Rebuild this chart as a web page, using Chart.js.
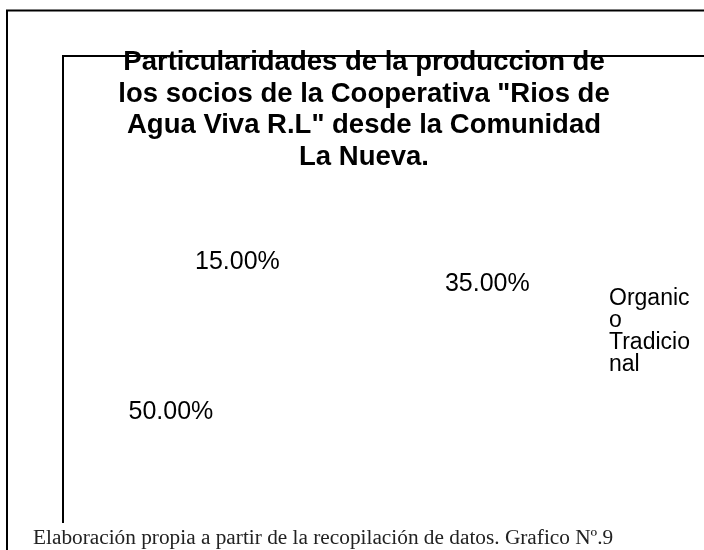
<!DOCTYPE html>
<html>
<head>
<meta charset="utf-8">
<script src="https://cdn.jsdelivr.net/npm/chart.js@4.4.1/dist/chart.umd.min.js"></script>
<style>
  html, body { margin: 0; padding: 0; background: #fff; }
  #wrap { width: 704px; height: 550px; position: relative; }
</style>
</head>
<body>
<div id="wrap"><canvas id="myChart" width="704" height="550"></canvas></div>
<script>
// data
const categories = ['Organico', 'Tradicional', ''];
const shares = [35, 50, 15];

const titleLines = [
    'Particularidades de la produccion de',
    'los socios de la Cooperativa "Rios de',
    'Agua Viva R.L" desde la Comunidad',
    'La Nueva.'
];
const footerText = 'Elaboración propia a partir de la recopilación de datos. Grafico Nº.9';

// the original pie was a tilted 3D one, labels sit on a skewed ellipse
const TILT = { xx: 2.127, xy: -0.262, yx: -0.132, yy: 0.959 };

// break a word into pieces no wider than maxW (like the narrow legend box)
function wrapChars(ctx, text, maxW) {
    const out = [];
    let cur = '';
    for (const ch of text) {
        if (cur && ctx.measureText(cur + ch).width > maxW) {
            out.push(cur);
            cur = ch;
        } else {
            cur += ch;
        }
    }
    if (cur) out.push(cur);
    return out;
}

// frames, title, labels, legend, footer
const decor = {
    id: 'decor',
    beforeDraw(chart) {
        const ctx = chart.ctx;
        ctx.save();
        ctx.fillStyle = '#fff';
        ctx.fillRect(0, 0, chart.width, chart.height);
        ctx.strokeStyle = '#000';
        ctx.lineWidth = 2;
        // outer border
        ctx.beginPath();
        ctx.moveTo(7, chart.height + 2);
        ctx.lineTo(7, 10.5);
        ctx.lineTo(chart.width + 2, 10.5);
        ctx.stroke();
        // plot frame
        ctx.beginPath();
        ctx.moveTo(63, 523);
        ctx.lineTo(63, 56);
        ctx.lineTo(chart.width + 2, 56);
        ctx.stroke();
        ctx.restore();
    },
    afterDraw(chart) {
        const ctx = chart.ctx;
        ctx.save();
        ctx.fillStyle = '#000';

        // title
        ctx.font = 'bold 27.5px "Liberation Sans", Arial, sans-serif';
        ctx.textAlign = 'center';
        ctx.textBaseline = 'alphabetic';
        titleLines.forEach((t, i) => ctx.fillText(t, 364, 70 + i * 31.5));

        // percent labels around the (invisible) pie
        const meta = chart.getDatasetMeta(0);
        ctx.font = '25px "Liberation Sans", Arial, sans-serif';
        ctx.textBaseline = 'middle';
        meta.data.forEach((arc, i) => {
            const p = arc.getProps(['x', 'y', 'startAngle', 'endAngle', 'outerRadius'], true);
            const mid = (p.startAngle + p.endAngle) / 2;
            const c = Math.cos(mid), s = Math.sin(mid);
            const lx = p.x + (TILT.xx * c + TILT.xy * s) * p.outerRadius;
            const ly = p.y + (TILT.yx * c + TILT.yy * s) * p.outerRadius;
            ctx.fillText(shares[i].toFixed(2) + '%', lx, ly);
        });

        // legend (no keys, text wrapped in a narrow column)
        ctx.font = '23px "Liberation Sans", Arial, sans-serif';
        ctx.textAlign = 'left';
        ctx.textBaseline = 'alphabetic';
        let row = 0;
        categories.forEach(c => {
            if (!c) return;
            wrapChars(ctx, c, 84).forEach(piece => {
                ctx.fillText(piece, 609, 305 + row * 22);
                row++;
            });
        });

        // footer
        ctx.fillStyle = '#222';
        ctx.font = '21.3px "Liberation Serif", "Times New Roman", serif';
        ctx.fillText(footerText, 33, 544);
        ctx.restore();
    }
};

const data = {
    labels: categories,
    datasets: [{
        data: shares,
        backgroundColor: 'rgba(255,255,255,0)',
        borderWidth: 0,
    }]
};

const config = {
    type: 'pie',
    data,
    options: {
        responsive: false,
        animation: false,
        layout: {
            padding: { left: 196, right: 292, top: 243, bottom: 125 }
        },
        plugins: {
            legend: { display: false },
            title: { display: false },
            tooltip: { enabled: false }
        }
    },
    plugins: [decor]
};

const myChart = new Chart(document.getElementById('myChart'), config);
</script>
</body>
</html>
